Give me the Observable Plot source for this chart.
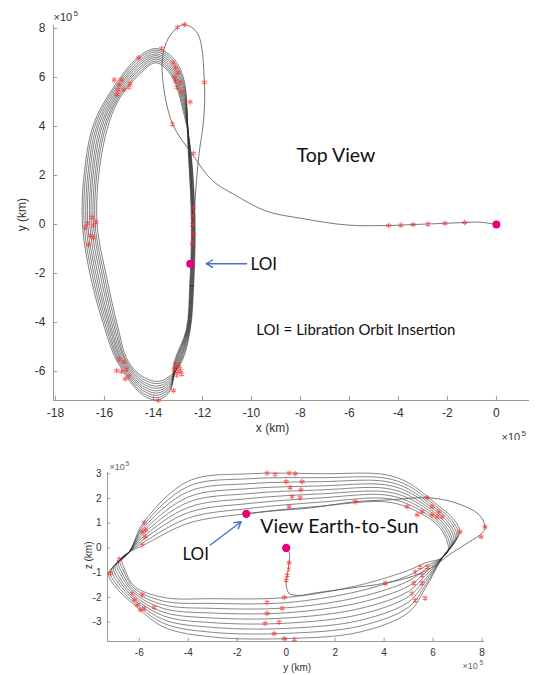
<!DOCTYPE html>
<html><head><meta charset="utf-8">
<script src="https://cdn.jsdelivr.net/npm/d3@7"></script>
<script src="https://cdn.jsdelivr.net/npm/@observablehq/plot@0.6"></script>
<style>
html,body{margin:0;padding:0;background:#fff;}
#wrap{position:relative;width:537px;height:675px;overflow:hidden;background:#fff;}
#top{position:absolute;left:0;top:0;}
#bot{position:absolute;left:0;top:440px;}
</style></head>
<body><div id="wrap"><div id="top"></div><div id="bot"></div></div>
<script>
// ---------- tick values ----------
const topTicksX = [-18,-16,-14,-12,-10,-8,-6,-4,-2,0];
const topTicksY = [-6,-4,-2,0,2,4,6,8];
const sideTicksY = [-6,-4,-2,0,2,4,6,8];
const sideTicksZ = [-3,-2,-1,0,1,2,3];

// ---------- TOP VIEW (x, y) in 1e5 km ----------
const topTransfer = [[0,0],[-0.7,0.1],[-1.3,0.08],[-2.1,0.05],[-2.8,0.02],[-3.4,0.0],[-4.4,-0.04],[-6.1,-0.02],[-7.9,0.24],[-9.4,0.55],[-10.7,1.22],[-11.6,1.8],[-12.4,2.85],[-13.22,4.1],[-13.63,6.0],[-13.6,7.0],[-13.39,7.6],[-13.02,8.04],[-12.73,8.16],[-12.2,7.8],[-11.92,5.8],[-11.95,4.3],[-12.15,2.8],[-12.3,1.0],[-12.45,-1.6]];
const topRevs = [
 [[-12.30,0],[-12.36,-2.5],[-12.50,-4.3],[-12.85,-5.6],[-13.3,-6.15],[-13.8,-6.40],[-14.45,-6.20],[-15.05,-5.55],[-15.45,-4.2],[-15.90,-2.2],[-16.30,0],[-16.20,2.3],[-15.80,4.2],[-15.35,5.20],[-14.6,6.10],[-13.9,6.60],[-13.25,6.05],[-12.78,4.60],[-12.48,3.0]],
 [[-12.32,0],[-12.38,-2.5],[-12.52,-4.3],[-12.89,-5.6],[-13.3,-6.23],[-13.8,-6.49],[-14.45,-6.29],[-15.11,-5.55],[-15.52,-4.2],[-15.98,-2.2],[-16.38,0],[-16.28,2.3],[-15.88,4.2],[-15.35,5.30],[-14.6,6.19],[-13.9,6.67],[-13.25,6.15],[-12.78,4.78],[-12.49,3.0]],
 [[-12.34,0],[-12.40,-2.5],[-12.54,-4.3],[-12.93,-5.6],[-13.3,-6.30],[-13.8,-6.59],[-14.45,-6.39],[-15.16,-5.55],[-15.59,-4.2],[-16.06,-2.2],[-16.45,0],[-16.35,2.3],[-15.95,4.2],[-15.35,5.40],[-14.6,6.29],[-13.9,6.75],[-13.25,6.25],[-12.78,4.95],[-12.50,3.0]],
 [[-12.36,0],[-12.42,-2.5],[-12.56,-4.3],[-12.96,-5.6],[-13.3,-6.38],[-13.8,-6.68],[-14.45,-6.48],[-15.22,-5.55],[-15.66,-4.2],[-16.14,-2.2],[-16.53,0],[-16.43,2.3],[-16.03,4.2],[-15.35,5.50],[-14.6,6.38],[-13.9,6.82],[-13.25,6.35],[-12.78,5.13],[-12.52,3.0]],
 [[-12.38,0],[-12.44,-2.5],[-12.58,-4.3],[-13.00,-5.6],[-13.3,-6.45],[-13.8,-6.78],[-14.45,-6.58],[-15.28,-5.55],[-15.73,-4.2],[-16.23,-2.2],[-16.60,0],[-16.50,2.3],[-16.10,4.2],[-15.35,5.60],[-14.6,6.48],[-13.9,6.89],[-13.25,6.45],[-12.78,5.30],[-12.53,3.0]],
 [[-12.39,0],[-12.46,-2.5],[-12.60,-4.3],[-13.04,-5.6],[-13.3,-6.53],[-13.8,-6.87],[-14.45,-6.67],[-15.33,-5.55],[-15.79,-4.2],[-16.31,-2.2],[-16.68,0],[-16.58,2.3],[-16.18,4.2],[-15.35,5.70],[-14.6,6.57],[-13.9,6.96],[-13.25,6.55],[-12.78,5.48],[-12.54,3.0]],
 [[-12.41,0],[-12.48,-2.5],[-12.62,-4.3],[-13.08,-5.6],[-13.3,-6.60],[-13.8,-6.96],[-14.45,-6.76],[-15.39,-5.55],[-15.86,-4.2],[-16.39,-2.2],[-16.75,0],[-16.65,2.3],[-16.25,4.2],[-15.35,5.80],[-14.6,6.66],[-13.9,7.04],[-13.25,6.65],[-12.78,5.65],[-12.55,3.0]],
 [[-12.43,0],[-12.50,-2.5],[-12.64,-4.3],[-13.11,-5.6],[-13.3,-6.68],[-13.8,-7.06],[-14.45,-6.86],[-15.44,-5.55],[-15.93,-4.2],[-16.47,-2.2],[-16.83,0],[-16.73,2.3],[-16.33,4.2],[-15.35,5.90],[-14.6,6.76],[-13.9,7.11],[-13.25,6.75],[-12.78,5.83],[-12.57,3.0]],
 [[-12.45,0],[-12.52,-2.5],[-12.66,-4.3],[-13.15,-5.6],[-13.3,-6.75],[-13.8,-7.15],[-14.45,-6.95],[-15.50,-5.55],[-16.00,-4.2],[-16.55,-2.2],[-16.90,0],[-16.80,2.3],[-16.40,4.2],[-15.35,6.00],[-14.6,6.85],[-13.9,7.18],[-13.25,6.85],[-12.78,6.00],[-12.58,3.0]]
];
const topStars = [[-1.3,0.08],[-2.1,0.05],[-2.8,0.02],[-3.4,0.0],[-3.9,-0.02],[-4.4,-0.04],
 [-13.22,4.1],[-13.02,8.04],[-12.73,8.16],[-11.92,5.8],
 [-16.78,-0.12],[-16.45,-0.04],[-16.5,0.29],[-16.57,-0.45],[-16.65,-0.82],[-16.45,-0.53],[-16.35,0.1],[-16.7,0.05],
 [-12.37,0.7],[-12.37,0.35],[-12.4,0.0],[-12.37,-0.37],[-12.41,-0.78],[-12.37,2.9],
 [-15.6,5.9],[-15.4,5.7],[-15.2,5.5],[-15.5,5.3],[-15.0,5.6],[-15.3,5.9],[-15.45,5.5],[-14.95,5.75],
 [-14.6,6.8],[-13.67,7.18],
 [-13.2,6.6],[-13.1,6.4],[-13.0,6.2],[-13.15,6.0],[-12.9,5.8],[-13.05,5.6],[-12.85,5.4],[-13.1,5.85],[-12.5,5.0],
 [-15.4,-5.5],[-15.2,-5.6],[-15.1,-5.9],[-15.3,-6.0],[-15.0,-6.2],[-15.15,-6.3],[-15.5,-5.96],
 [-13.1,-5.7],[-12.95,-5.8],[-13.15,-5.9],[-13.0,-6.0],[-12.85,-6.1],[-13.05,-6.15],[-12.9,-5.95],
 [-13.18,-6.78],[-13.8,-7.18]];
const topMagenta = [[0,0],[-12.5,-1.6]];

// ---------- EARTH-TO-SUN VIEW (y, z) in 1e5 km ----------
const sideTransfer = [[0,0],[0.12,-0.17],[0.12,-0.6],[0.04,-1.1],[0.0,-1.5],[0.12,-1.83],[0.53,-1.92],[1.18,-1.82],[2.57,-1.63],[4.05,-1.42],[5.3,-1.1],[6.1,-0.7],[6.65,-0.28],[7.47,0.24],[8.0,0.6],[8.12,0.85],[7.88,1.34],[6.9,1.83],[5.76,2.03],[4.33,1.95],[2.82,1.87],[1.0,1.62],[-0.5,1.5],[-1.63,1.38]];
const sideRevs = [
 [[-6.72,-0.42],[-6.60,-0.85],[-6.2,-1.55],[-5.0,-2.00],[-3.0,-2.05],[0,-2.00],[3.0,-1.50],[5.0,-0.90],[5.7,-0.60],[6.37,-0.40],[6.62,-0.05],[6.50,0.45],[6.1,1.00],[5.0,1.63],[4.0,1.87],[1.5,1.70],[-1.5,1.40],[-4.0,1.00],[-5.85,0.10],[-6.42,-0.17]],
 [[-6.79,-0.50],[-6.64,-0.94],[-6.2,-1.64],[-5.0,-2.15],[-3.0,-2.24],[0,-2.21],[3.0,-1.74],[5.0,-1.11],[5.7,-0.73],[6.37,-0.40],[6.68,0.03],[6.54,0.54],[6.1,1.10],[5.0,1.76],[4.0,2.01],[1.5,1.86],[-1.5,1.60],[-4.0,1.21],[-5.85,0.21],[-6.42,-0.17]],
 [[-6.85,-0.57],[-6.69,-1.04],[-6.2,-1.74],[-5.0,-2.30],[-3.0,-2.44],[0,-2.42],[3.0,-1.98],[5.0,-1.33],[5.7,-0.85],[6.37,-0.40],[6.74,0.12],[6.59,0.63],[6.1,1.20],[5.0,1.88],[4.0,2.15],[1.5,2.03],[-1.5,1.80],[-4.0,1.43],[-5.85,0.33],[-6.42,-0.17]],
 [[-6.92,-0.65],[-6.73,-1.13],[-6.2,-1.83],[-5.0,-2.45],[-3.0,-2.63],[0,-2.62],[3.0,-2.21],[5.0,-1.54],[5.7,-0.98],[6.37,-0.40],[6.79,0.20],[6.63,0.71],[6.1,1.30],[5.0,2.01],[4.0,2.28],[1.5,2.19],[-1.5,2.00],[-4.0,1.64],[-5.85,0.44],[-6.42,-0.17]],
 [[-6.99,-0.72],[-6.78,-1.23],[-6.2,-1.93],[-5.0,-2.60],[-3.0,-2.83],[0,-2.83],[3.0,-2.45],[5.0,-1.75],[5.7,-1.10],[6.37,-0.40],[6.85,0.29],[6.68,0.80],[6.1,1.40],[5.0,2.13],[4.0,2.42],[1.5,2.35],[-1.5,2.20],[-4.0,1.85],[-5.85,0.55],[-6.42,-0.17]],
 [[-7.05,-0.80],[-6.82,-1.32],[-6.2,-2.02],[-5.0,-2.75],[-3.0,-3.02],[0,-3.04],[3.0,-2.69],[5.0,-1.96],[5.7,-1.23],[6.37,-0.40],[6.91,0.37],[6.72,0.89],[6.1,1.50],[5.0,2.26],[4.0,2.56],[1.5,2.51],[-1.5,2.40],[-4.0,2.06],[-5.85,0.66],[-6.42,-0.17]],
 [[-7.12,-0.87],[-6.86,-1.41],[-6.2,-2.11],[-5.0,-2.90],[-3.0,-3.21],[0,-3.25],[3.0,-2.93],[5.0,-2.18],[5.7,-1.35],[6.37,-0.40],[6.97,0.45],[6.76,0.98],[6.1,1.60],[5.0,2.38],[4.0,2.70],[1.5,2.68],[-1.5,2.60],[-4.0,2.28],[-5.85,0.78],[-6.42,-0.17]],
 [[-7.18,-0.95],[-6.91,-1.51],[-6.2,-2.21],[-5.0,-3.05],[-3.0,-3.41],[0,-3.45],[3.0,-3.16],[5.0,-2.39],[5.7,-1.48],[6.37,-0.40],[7.02,0.54],[6.81,1.06],[6.1,1.70],[5.0,2.51],[4.0,2.83],[1.5,2.84],[-1.5,2.80],[-4.0,2.49],[-5.85,0.89],[-6.42,-0.17]],
 [[-7.25,-1.02],[-6.95,-1.60],[-6.2,-2.30],[-5.0,-3.20],[-3.0,-3.60],[0,-3.66],[3.0,-3.40],[5.0,-2.60],[5.7,-1.60],[6.37,-0.40],[7.08,0.62],[6.85,1.15],[6.1,1.80],[5.0,2.63],[4.0,2.97],[1.5,3.00],[-1.5,3.00],[-4.0,2.70],[-5.85,1.00],[-6.42,-0.17]]
];
const sideStars = [[0.12,-0.6],[0.1,-0.85],[0.04,-1.1],[0.0,-1.3],[4.05,-1.42],[7.96,0.45],[8.12,0.85],[5.76,2.03],[2.82,1.87],
 [-5.8,1.02],[-5.75,0.73],[-5.88,0.65],[-5.75,0.45],[-5.88,0.12],[-6.82,-0.45],[-7.18,-1.02],
 [-6.29,-1.83],[-5.88,-1.9],[-6.2,-2.1],[-6.08,-2.3],[-5.8,-2.45],[-5.39,-2.4],[-5.96,-2.5],
 [-0.78,3.02],[-0.45,2.97],[0.12,3.02],[0.0,2.68],[0.16,2.44],[0.24,2.07],[0.12,1.67],[0.65,2.68],[0.57,2.03],[0.37,3.0],[0.6,2.35],
 [-0.78,-2.2],[-0.08,-2.0],[-0.78,-2.64],[-0.16,-2.44],[-0.86,-3.05],[-0.29,-3.0],[-0.49,-3.46],[-0.08,-3.66],[0.33,-3.7],
 [4.94,1.67],[5.35,1.34],[5.55,1.46],[5.96,1.34],[6.16,1.26],[6.37,1.26],[5.96,1.67],[6.24,1.46],[7.1,0.65],
 [5.47,-0.77],[5.76,-0.77],[5.27,-0.98],[5.55,-1.1],[5.22,-1.42],[5.55,-1.42],[5.14,-1.83],[5.67,-2.03],[5.27,-2.11]];
const sideMagenta = [[0,0],[-1.63,1.38]];

// ---------- helpers ----------
const tickFont = "Liberation Sans, Arial, Helvetica, sans-serif";
const noteFont = "Lato, 'Open Sans', sans-serif";
const axisGrey = "#9a9a9a";
const labelGrey = "#333";
const lineCol = "#2a2a2a";
const starCol = "#ff2a2a";
const magenta = "#e6007e";
const arrowBlue = "#4472c4";
const flatRevs = revs => revs.flatMap((rev, i) => rev.map(([a, b]) => ({rev: i, a, b})));

// ---------- TOP VIEW ----------
const TX = [-18.08, 1.35], TY = [-7.18, 8.12];
const topPlot = Plot.plot({
  width: 537, height: 440,
  marginLeft: 53, marginRight: 8, marginTop: 25, marginBottom: 40,
  x: {domain: TX, axis: null},
  y: {domain: TY, axis: null},
  style: {fontFamily: tickFont, background: "#fff", overflow: "visible"},
  marks: [
    Plot.ruleY([TY[0]], {stroke: axisGrey, strokeWidth: 1}),
    Plot.ruleX([TX[0]], {stroke: axisGrey, strokeWidth: 1}),
    Plot.ruleX(topTicksX, {x: d => d, y1: TY[0], y2: TY[0] + 0.17, stroke: axisGrey}),
    Plot.ruleY(topTicksY, {y: d => d, x1: TX[0], x2: TX[0] + 0.17, stroke: axisGrey}),
    Plot.text(topTicksX, {x: d => d, y: TY[0], dy: 13, text: d => String(d), fontSize: 12, fill: labelGrey}),
    Plot.text(topTicksY, {x: TX[0], y: d => d, dx: -8, text: d => String(d), textAnchor: "end", fontSize: 12, fill: labelGrey}),
    Plot.text(["x (km)"], {x: -9.14, y: TY[0], dy: 28, text: d => d, fontSize: 12, fill: labelGrey}),
    Plot.text(["y (km)"], {x: TX[0], y: 0.4, dx: -31, text: d => d, rotate: -90, fontSize: 12, fill: labelGrey}),
    Plot.text(["×10"], {x: TX[0], y: TY[1], dx: 0, dy: -8, text: d => d, textAnchor: "start", fontSize: 11, fill: labelGrey}),
    Plot.text(["5"], {x: TX[0], y: TY[1], dx: 20, dy: -12, text: d => d, textAnchor: "start", fontSize: 8, fill: labelGrey}),
    Plot.text(["×10"], {x: TX[1], y: TY[0], dx: -28, dy: 37, text: d => d, textAnchor: "start", fontSize: 11, fill: labelGrey}),
    Plot.text(["5"], {x: TX[1], y: TY[0], dx: -8, dy: 33, text: d => d, textAnchor: "start", fontSize: 8, fill: labelGrey}),
    Plot.line(flatRevs(topRevs), {x: "a", y: "b", z: "rev", curve: "catmull-rom-closed", stroke: lineCol, strokeWidth: 0.7, strokeOpacity: 0.85}),
    Plot.line(topTransfer, {x: d => d[0], y: d => d[1], curve: "catmull-rom", stroke: "#555", strokeWidth: 0.8}),
    Plot.dot(topStars, {x: d => d[0], y: d => d[1], symbol: "asterisk", r: 2.6, stroke: starCol, strokeWidth: 1.1, strokeOpacity: 0.7}),
    Plot.dot(topMagenta, {x: d => d[0], y: d => d[1], r: 3.2, fill: magenta, stroke: magenta}),
    Plot.arrow([{x1: -10.2, y1: -1.6, x2: -11.85, y2: -1.6}], {x1: "x1", y1: "y1", x2: "x2", y2: "y2", stroke: arrowBlue, strokeWidth: 1.4, headLength: 8, bend: 0}),
    Plot.text(["LOI"], {x: -10.04, y: -1.63, text: d => d, textAnchor: "start", fontSize: 17, fontFamily: noteFont, fill: "#111"}),
    Plot.text(["Top View"], {x: -8.16, y: 2.82, text: d => d, textAnchor: "start", fontSize: 19.5, fontFamily: noteFont, fill: "#111"}),
    Plot.text(["LOI = Libration Orbit Insertion"], {x: -9.8, y: -4.33, text: d => d, textAnchor: "start", fontSize: 15, fontFamily: noteFont, fill: "#111"})
  ]
});
document.getElementById("top").append(topPlot);

// ---------- EARTH-TO-SUN VIEW ----------
const SX = [-7.3, 8.1], SZ = [-3.78, 3.05];
const sidePlot = Plot.plot({
  width: 537, height: 235,
  marginLeft: 107, marginRight: 53, marginTop: 32, marginBottom: 34,
  x: {domain: SX, axis: null},
  y: {domain: SZ, axis: null},
  style: {fontFamily: tickFont, background: "#fff", overflow: "visible"},
  marks: [
    Plot.ruleY([SZ[0]], {stroke: axisGrey}),
    Plot.ruleX([SX[0]], {stroke: axisGrey}),
    Plot.ruleX(sideTicksY, {x: d => d, y1: SZ[0], y2: SZ[0] + 0.13, stroke: axisGrey}),
    Plot.ruleY(sideTicksZ, {y: d => d, x1: SX[0], x2: SX[0] + 0.13, stroke: axisGrey}),
    Plot.text(sideTicksY, {x: d => d, y: SZ[0], dy: 11, text: d => String(d), fontSize: 10, fill: labelGrey}),
    Plot.text(sideTicksZ, {x: SX[0], y: d => d, dx: -6, text: d => String(d), textAnchor: "end", fontSize: 10, fill: labelGrey}),
    Plot.text(["y (km)"], {x: 0.45, y: SZ[0], dy: 26, text: d => d, fontSize: 10, fill: labelGrey}),
    Plot.text(["z (km)"], {x: SX[0], y: -0.3, dx: -19, text: d => d, rotate: -90, fontSize: 10, fill: labelGrey}),
    Plot.text(["×10"], {x: SX[0], y: SZ[1], dx: 2, dy: -5, text: d => d, textAnchor: "start", fontSize: 9, fill: "#666"}),
    Plot.text(["5"], {x: SX[0], y: SZ[1], dx: 18, dy: -9, text: d => d, textAnchor: "start", fontSize: 7, fill: "#666"}),
    Plot.text(["×10"], {x: SX[1], y: SZ[0], dx: -22, dy: 25, text: d => d, textAnchor: "start", fontSize: 9, fill: "#666"}),
    Plot.text(["5"], {x: SX[1], y: SZ[0], dx: -5, dy: 21, text: d => d, textAnchor: "start", fontSize: 7, fill: "#666"}),
    Plot.line(flatRevs(sideRevs), {x: "a", y: "b", z: "rev", curve: "catmull-rom-closed", stroke: lineCol, strokeWidth: 0.7, strokeOpacity: 0.8}),
    Plot.line(sideTransfer, {x: d => d[0], y: d => d[1], curve: "catmull-rom", stroke: "#555", strokeWidth: 0.8}),
    Plot.dot(sideStars, {x: d => d[0], y: d => d[1], symbol: "asterisk", r: 2.6, stroke: starCol, strokeWidth: 1.1, strokeOpacity: 0.7}),
    Plot.dot(sideMagenta, {x: d => d[0], y: d => d[1], r: 3.4, fill: magenta, stroke: magenta}),
    Plot.arrow([{x1: -3.1, y1: 0.12, x2: -1.84, y2: 1.06}], {x1: "x1", y1: "y1", x2: "x2", y2: "y2", stroke: arrowBlue, strokeWidth: 1.4, headLength: 8, bend: 0}),
    Plot.text(["LOI"], {x: -4.24, y: -0.28, text: d => d, textAnchor: "start", fontSize: 17, fontFamily: noteFont, fill: "#111"}),
    Plot.text(["View Earth-to-Sun"], {x: -1.06, y: 0.85, text: d => d, textAnchor: "start", fontSize: 19.5, fontFamily: noteFont, fill: "#111"})
  ]
});
document.getElementById("bot").append(sidePlot);
</script>
</body></html>
